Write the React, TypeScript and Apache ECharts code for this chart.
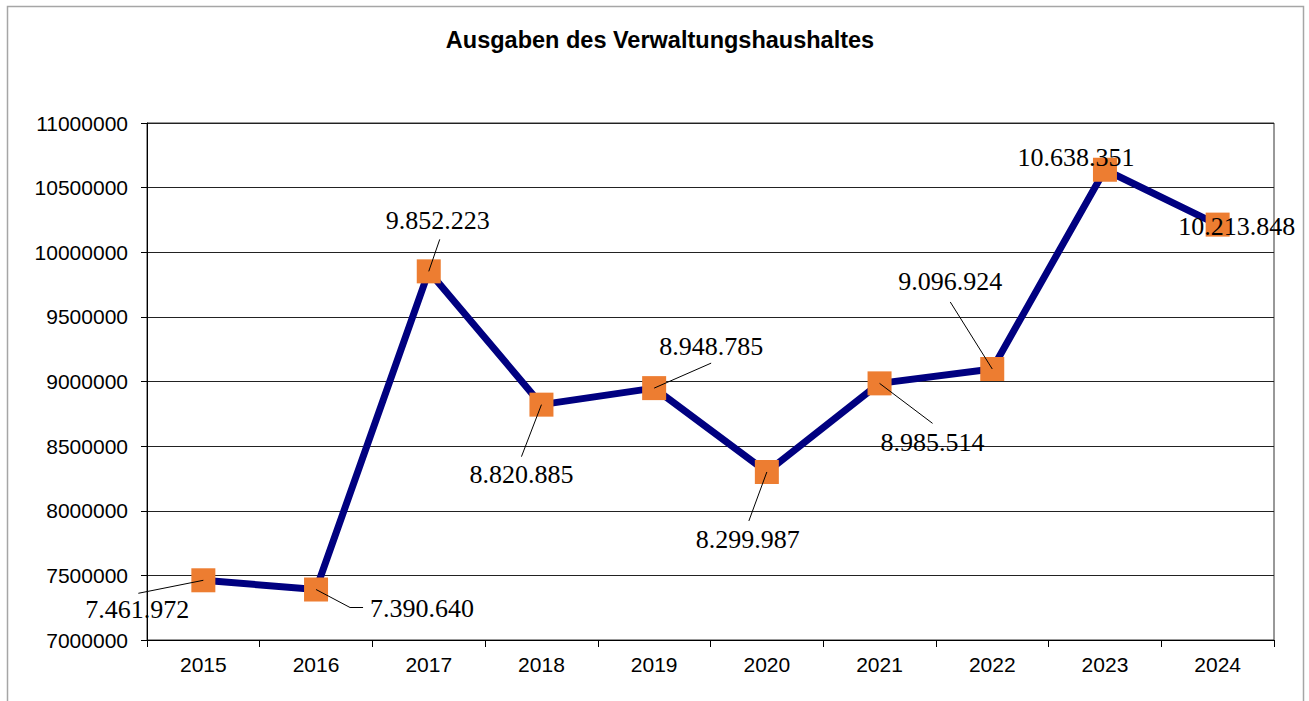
import React, { useEffect, useRef } from "react";
import * as echarts from "echarts";

const years = ["2015", "2016", "2017", "2018", "2019", "2020", "2021", "2022", "2023", "2024"];
const values = [7461972, 7390640, 9852223, 8820885, 8948785, 8299987, 8985514, 9096924, 10638351, 10213848];
const yTicks = { min: 7000000, max: 11000000, interval: 500000 };
const titleText = "Ausgaben des Verwaltungshaushaltes";

// label centre offsets from each point (pixels)
const labelOffsets: [number, number][] = [
  [-66, 29], [106, 19], [9, -51], [-20, 70], [57, -42],
  [-19, 68], [53, 59], [-42, -87], [-29, -12], [19, 2],
];
// leader line points relative to each point (pixels)
const leaderLines: [number, number][][] = [
  [[0, 0], [-65, 13]],
  [[0, 0], [34, 18], [47, 18]],
  [[0, 0], [11, -32]],
  [[0, 0], [-20, 52]],
  [[0, 0], [57, -25]],
  [[0, 0], [-18, 49]],
  [[0, 0], [53, 40]],
  [[0, 0], [-42, -67]],
  [],
  [],
];

const fmt = (v: number) => String(v).replace(/\B(?=(\d{3})+(?!\d))/g, ".");

export default function App() {
  const ref = useRef<HTMLDivElement>(null);
  useEffect(() => {
    document.body.style.margin = "0";
    if (!ref.current) return;
    const chart = echarts.init(ref.current, undefined, { renderer: "svg" });
    const option: any = {
      animation: false,
      backgroundColor: "#ffffff",
      title: {
        text: titleText,
        left: 655,
        top: 23,
        textAlign: "center",
        textStyle: { fontFamily: "Liberation Sans", fontSize: 23.5, fontWeight: "bold", color: "#000" },
      },
      graphic: [
        {
          type: "rect",
          shape: { x: 7.5, y: 6.5, width: 1296, height: 720 },
          style: { fill: "none", stroke: "#a6a6a6", lineWidth: 1.5 },
          silent: true,
        },
      ],
      grid: {
        left: 147,
        top: 123,
        right: 35,
        bottom: 61,
        show: true,
        borderColor: "#333",
        borderWidth: 1,
      },
      xAxis: {
        type: "category",
        data: years,
        boundaryGap: true,
        axisLine: { lineStyle: { color: "#000", width: 1 } },
        axisTick: { show: true, length: 7, lineStyle: { color: "#000" } },
        axisLabel: { fontFamily: "Liberation Sans", fontSize: 21, color: "#000", margin: 14 },
        splitLine: { show: false },
      },
      yAxis: {
        type: "value",
        min: yTicks.min,
        max: yTicks.max,
        interval: yTicks.interval,
        axisLine: { show: true, lineStyle: { color: "#000", width: 1 } },
        axisTick: { show: true, length: 6, lineStyle: { color: "#000" } },
        axisLabel: {
          fontFamily: "Liberation Sans",
          fontSize: 21,
          color: "#000",
          margin: 19,
          formatter: (v: number) => String(v),
        },
        splitLine: { show: true, lineStyle: { color: "#222", width: 1 } },
      },
      series: [
        {
          type: "line",
          data: values,
          z: 2,
          lineStyle: { color: "#000080", width: 7 },
          symbol: "rect",
          symbolSize: 24,
          itemStyle: { color: "#ED7D31" },
          label: { show: false },
        },
        {
          type: "custom",
          z: 5,
          clip: false,
          data: values.map((v, i) => [i, v]),
          encode: { x: 0, y: 1 },
          renderItem: (params: any, api: any) => {
            const i = params.dataIndex;
            const c = api.coord([api.value(0), api.value(1)]);
            const children: any[] = [];
            const pts = leaderLines[i];
            if (pts && pts.length > 1) {
              children.push({
                type: "polyline",
                shape: { points: pts.map((p) => [c[0] + p[0], c[1] + p[1]]) },
                style: { stroke: "#000", lineWidth: 1, fill: "none" },
              });
            }
            const off = labelOffsets[i];
            children.push({
              type: "text",
              x: c[0] + off[0],
              y: c[1] + off[1],
              style: {
                text: fmt(values[i]),
                font: '26px "Liberation Serif"',
                fill: "#000",
                align: "center",
                verticalAlign: "middle",
              },
            });
            return { type: "group", children };
          },
        },
      ],
    };
    chart.setOption(option);
    return () => chart.dispose();
  }, []);
  return <div ref={ref} style={{ width: 1309, height: 701 }} />;
}
